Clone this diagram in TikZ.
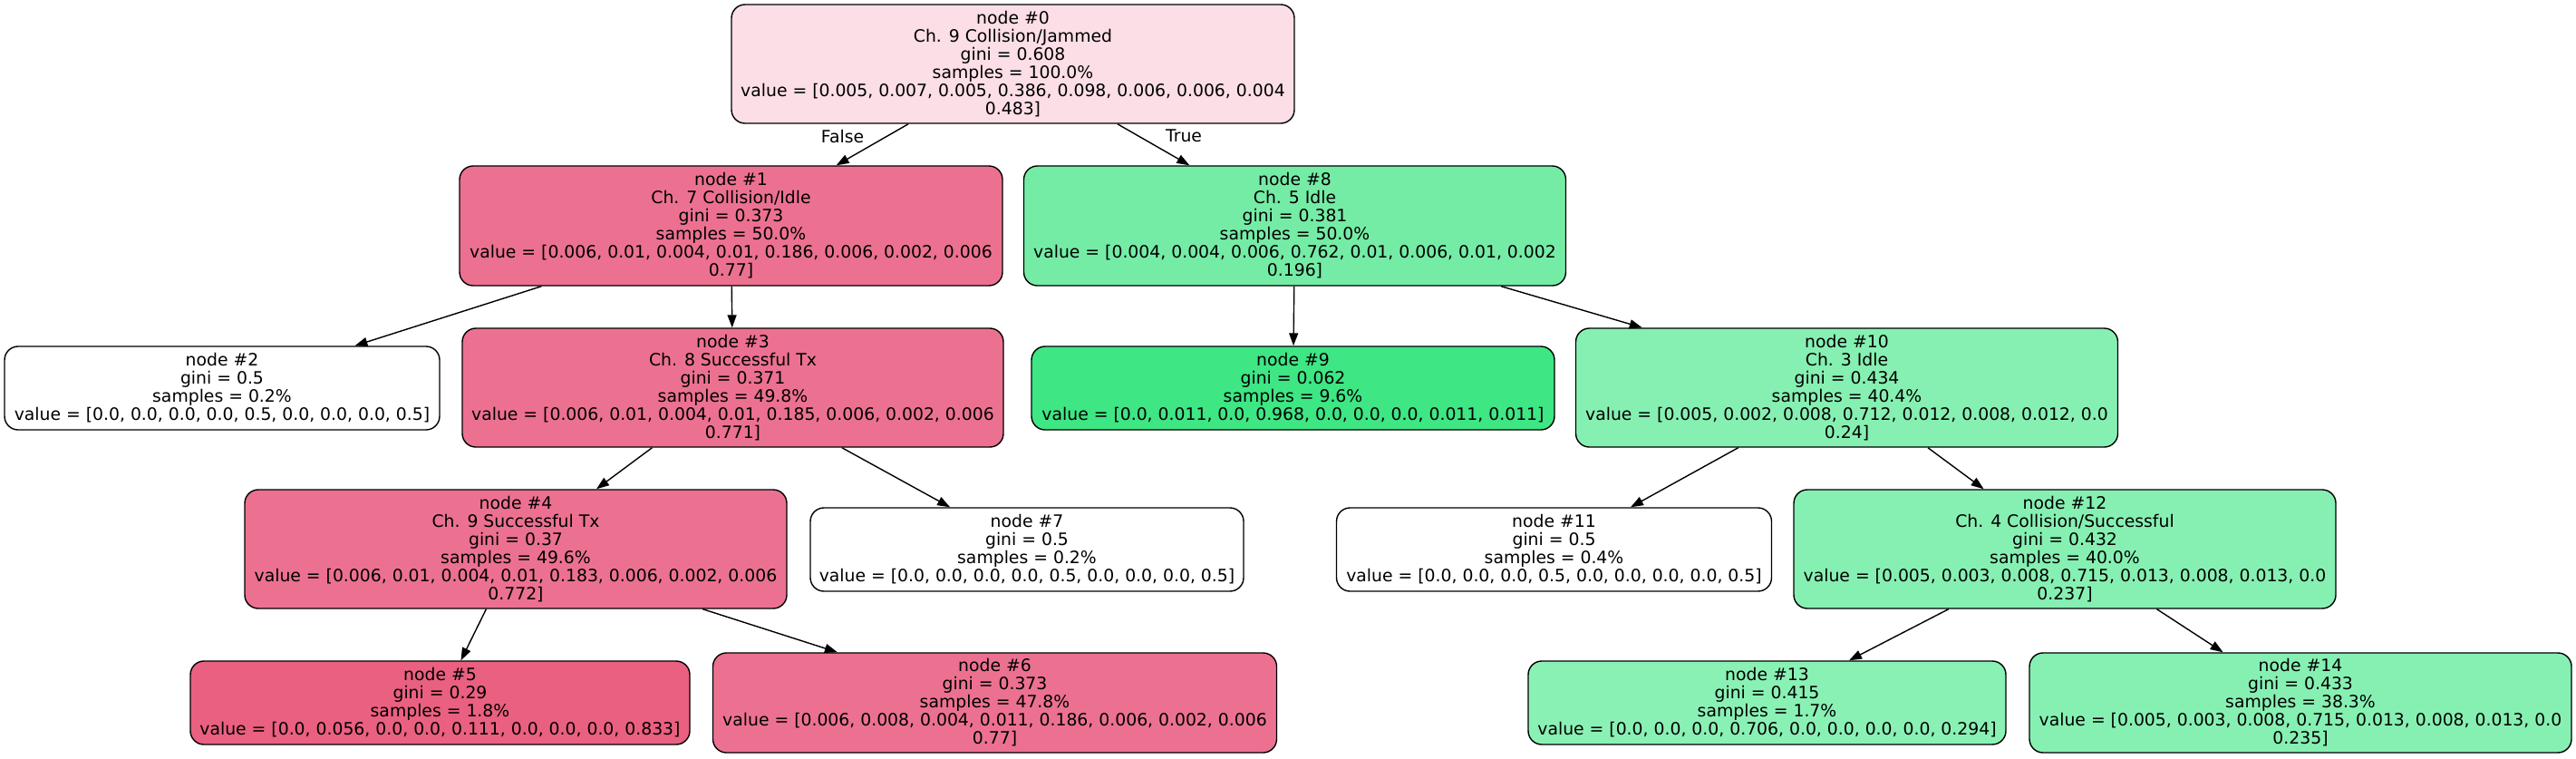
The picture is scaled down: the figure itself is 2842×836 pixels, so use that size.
\documentclass[tikz,border=0pt]{standalone}
\usepackage{fontspec}
\setmainfont{DejaVu Sans}
\usetikzlibrary{arrows.meta}
\definecolor{pinkA}{RGB}{252,222,230}
\definecolor{pinkB}{RGB}{236,113,144}
\definecolor{pinkC}{RGB}{234,96,129}
\definecolor{greenA}{RGB}{117,236,166}
\definecolor{greenB}{RGB}{62,230,132}
\definecolor{greenC}{RGB}{134,240,178}
\definecolor{greenD}{RGB}{138,241,181}
\tikzset{
  tnode/.style={draw=black, line width=0.7pt, rounded corners=7.5pt, align=center,
    inner sep=0pt, font=\fontsize{9.4pt}{10pt}\selectfont, text=black},
  edge/.style={draw=black, line width=0.7pt, -{Triangle[length=7pt,width=5pt]}},
  elabel/.style={font=\fontsize{9.4pt}{10pt}\selectfont, inner sep=0pt}
}
\begin{document}
\begin{tikzpicture}[x=0.5pt,y=-0.5pt]
\useasboundingbox (0,0) rectangle (2842,836);
\node[tnode, fill=pinkA, minimum width=310.5pt, minimum height=65.5pt] (n0) at (1117.5,70.5)
  {node \#0\\Ch. 9 Collision/Jammed\\gini = 0.608\\samples = 100.0\%\\value = [0.005, 0.007, 0.005, 0.386, 0.098, 0.006, 0.006, 0.004\\0.483]};
\node[tnode, fill=pinkB, minimum width=299.5pt, minimum height=66pt] (n1) at (806.5,249)
  {node \#1\\Ch. 7 Collision/Idle\\gini = 0.373\\samples = 50.0\%\\value = [0.006, 0.01, 0.004, 0.01, 0.186, 0.006, 0.002, 0.006\\0.77]};
\node[tnode, fill=greenA, minimum width=299pt, minimum height=66pt] (n8) at (1428.5,249)
  {node \#8\\Ch. 5 Idle\\gini = 0.381\\samples = 50.0\%\\value = [0.004, 0.004, 0.006, 0.762, 0.01, 0.006, 0.01, 0.002\\0.196]};
\node[tnode, fill=white, minimum width=240pt, minimum height=46pt] (n2) at (245,428)
  {node \#2\\gini = 0.5\\samples = 0.2\%\\value = [0.0, 0.0, 0.0, 0.0, 0.5, 0.0, 0.0, 0.0, 0.5]};
\node[tnode, fill=pinkB, minimum width=298.5pt, minimum height=65.5pt] (n3) at (808.5,427.5)
  {node \#3\\Ch. 8 Successful Tx\\gini = 0.371\\samples = 49.8\%\\value = [0.006, 0.01, 0.004, 0.01, 0.185, 0.006, 0.002, 0.006\\0.771]};
\node[tnode, fill=greenB, minimum width=288.5pt, minimum height=46pt] (n9) at (1426.5,428)
  {node \#9\\gini = 0.062\\samples = 9.6\%\\value = [0.0, 0.011, 0.0, 0.968, 0.0, 0.0, 0.0, 0.011, 0.011]};
\node[tnode, fill=greenC, minimum width=299pt, minimum height=65.5pt] (n10) at (2037.5,427.5)
  {node \#10\\Ch. 3 Idle\\gini = 0.434\\samples = 40.4\%\\value = [0.005, 0.002, 0.008, 0.712, 0.012, 0.008, 0.012, 0.0\\0.24]};
\node[tnode, fill=pinkB, minimum width=299pt, minimum height=65.5pt] (n4) at (569,605.5)
  {node \#4\\Ch. 9 Successful Tx\\gini = 0.37\\samples = 49.6\%\\value = [0.006, 0.01, 0.004, 0.01, 0.183, 0.006, 0.002, 0.006\\0.772]};
\node[tnode, fill=white, minimum width=239pt, minimum height=46pt] (n7) at (1133,606)
  {node \#7\\gini = 0.5\\samples = 0.2\%\\value = [0.0, 0.0, 0.0, 0.0, 0.5, 0.0, 0.0, 0.0, 0.5]};
\node[tnode, fill=white, minimum width=240pt, minimum height=46pt] (n11) at (1714.5,606)
  {node \#11\\gini = 0.5\\samples = 0.4\%\\value = [0.0, 0.0, 0.0, 0.5, 0.0, 0.0, 0.0, 0.0, 0.5]};
\node[tnode, fill=greenC, minimum width=299pt, minimum height=65.5pt] (n12) at (2278,605.5)
  {node \#12\\Ch. 4 Collision/Successful\\gini = 0.432\\samples = 40.0\%\\value = [0.005, 0.003, 0.008, 0.715, 0.013, 0.008, 0.013, 0.0\\0.237]};
\node[tnode, fill=pinkC, minimum width=275.5pt, minimum height=46pt] (n5) at (485.5,775)
  {node \#5\\gini = 0.29\\samples = 1.8\%\\value = [0.0, 0.056, 0.0, 0.0, 0.111, 0.0, 0.0, 0.0, 0.833]};
\node[tnode, fill=pinkB, minimum width=311pt, minimum height=55pt] (n6) at (1097.5,775)
  {node \#6\\gini = 0.373\\samples = 47.8\%\\value = [0.006, 0.008, 0.004, 0.011, 0.186, 0.006, 0.002, 0.006\\0.77]};
\node[tnode, fill=greenD, minimum width=263.5pt, minimum height=46pt] (n13) at (1949.5,775)
  {node \#13\\gini = 0.415\\samples = 1.7\%\\value = [0.0, 0.0, 0.0, 0.706, 0.0, 0.0, 0.0, 0.0, 0.294]};
\node[tnode, fill=greenC, minimum width=299pt, minimum height=55pt] (n14) at (2538,775)
  {node \#14\\gini = 0.433\\samples = 38.3\%\\value = [0.005, 0.003, 0.008, 0.715, 0.013, 0.008, 0.013, 0.0\\0.235]};
\draw[edge] (n0) -- (n1);
\draw[edge] (n0) -- (n8);
\draw[edge] (n1) -- (n2);
\draw[edge] (n1) -- (n3);
\draw[edge] (n3) -- (n4);
\draw[edge] (n3) -- (n7);
\draw[edge] (n4) -- (n5);
\draw[edge] (n4) -- (n6);
\draw[edge] (n8) -- (n9);
\draw[edge] (n8) -- (n10);
\draw[edge] (n10) -- (n11);
\draw[edge] (n10) -- (n12);
\draw[edge] (n12) -- (n13);
\draw[edge] (n12) -- (n14);
\node[elabel] (lblF) at (929.5,150) {False};
\node[elabel] (lblT) at (1306,150) {True};
\end{tikzpicture}
\end{document}
